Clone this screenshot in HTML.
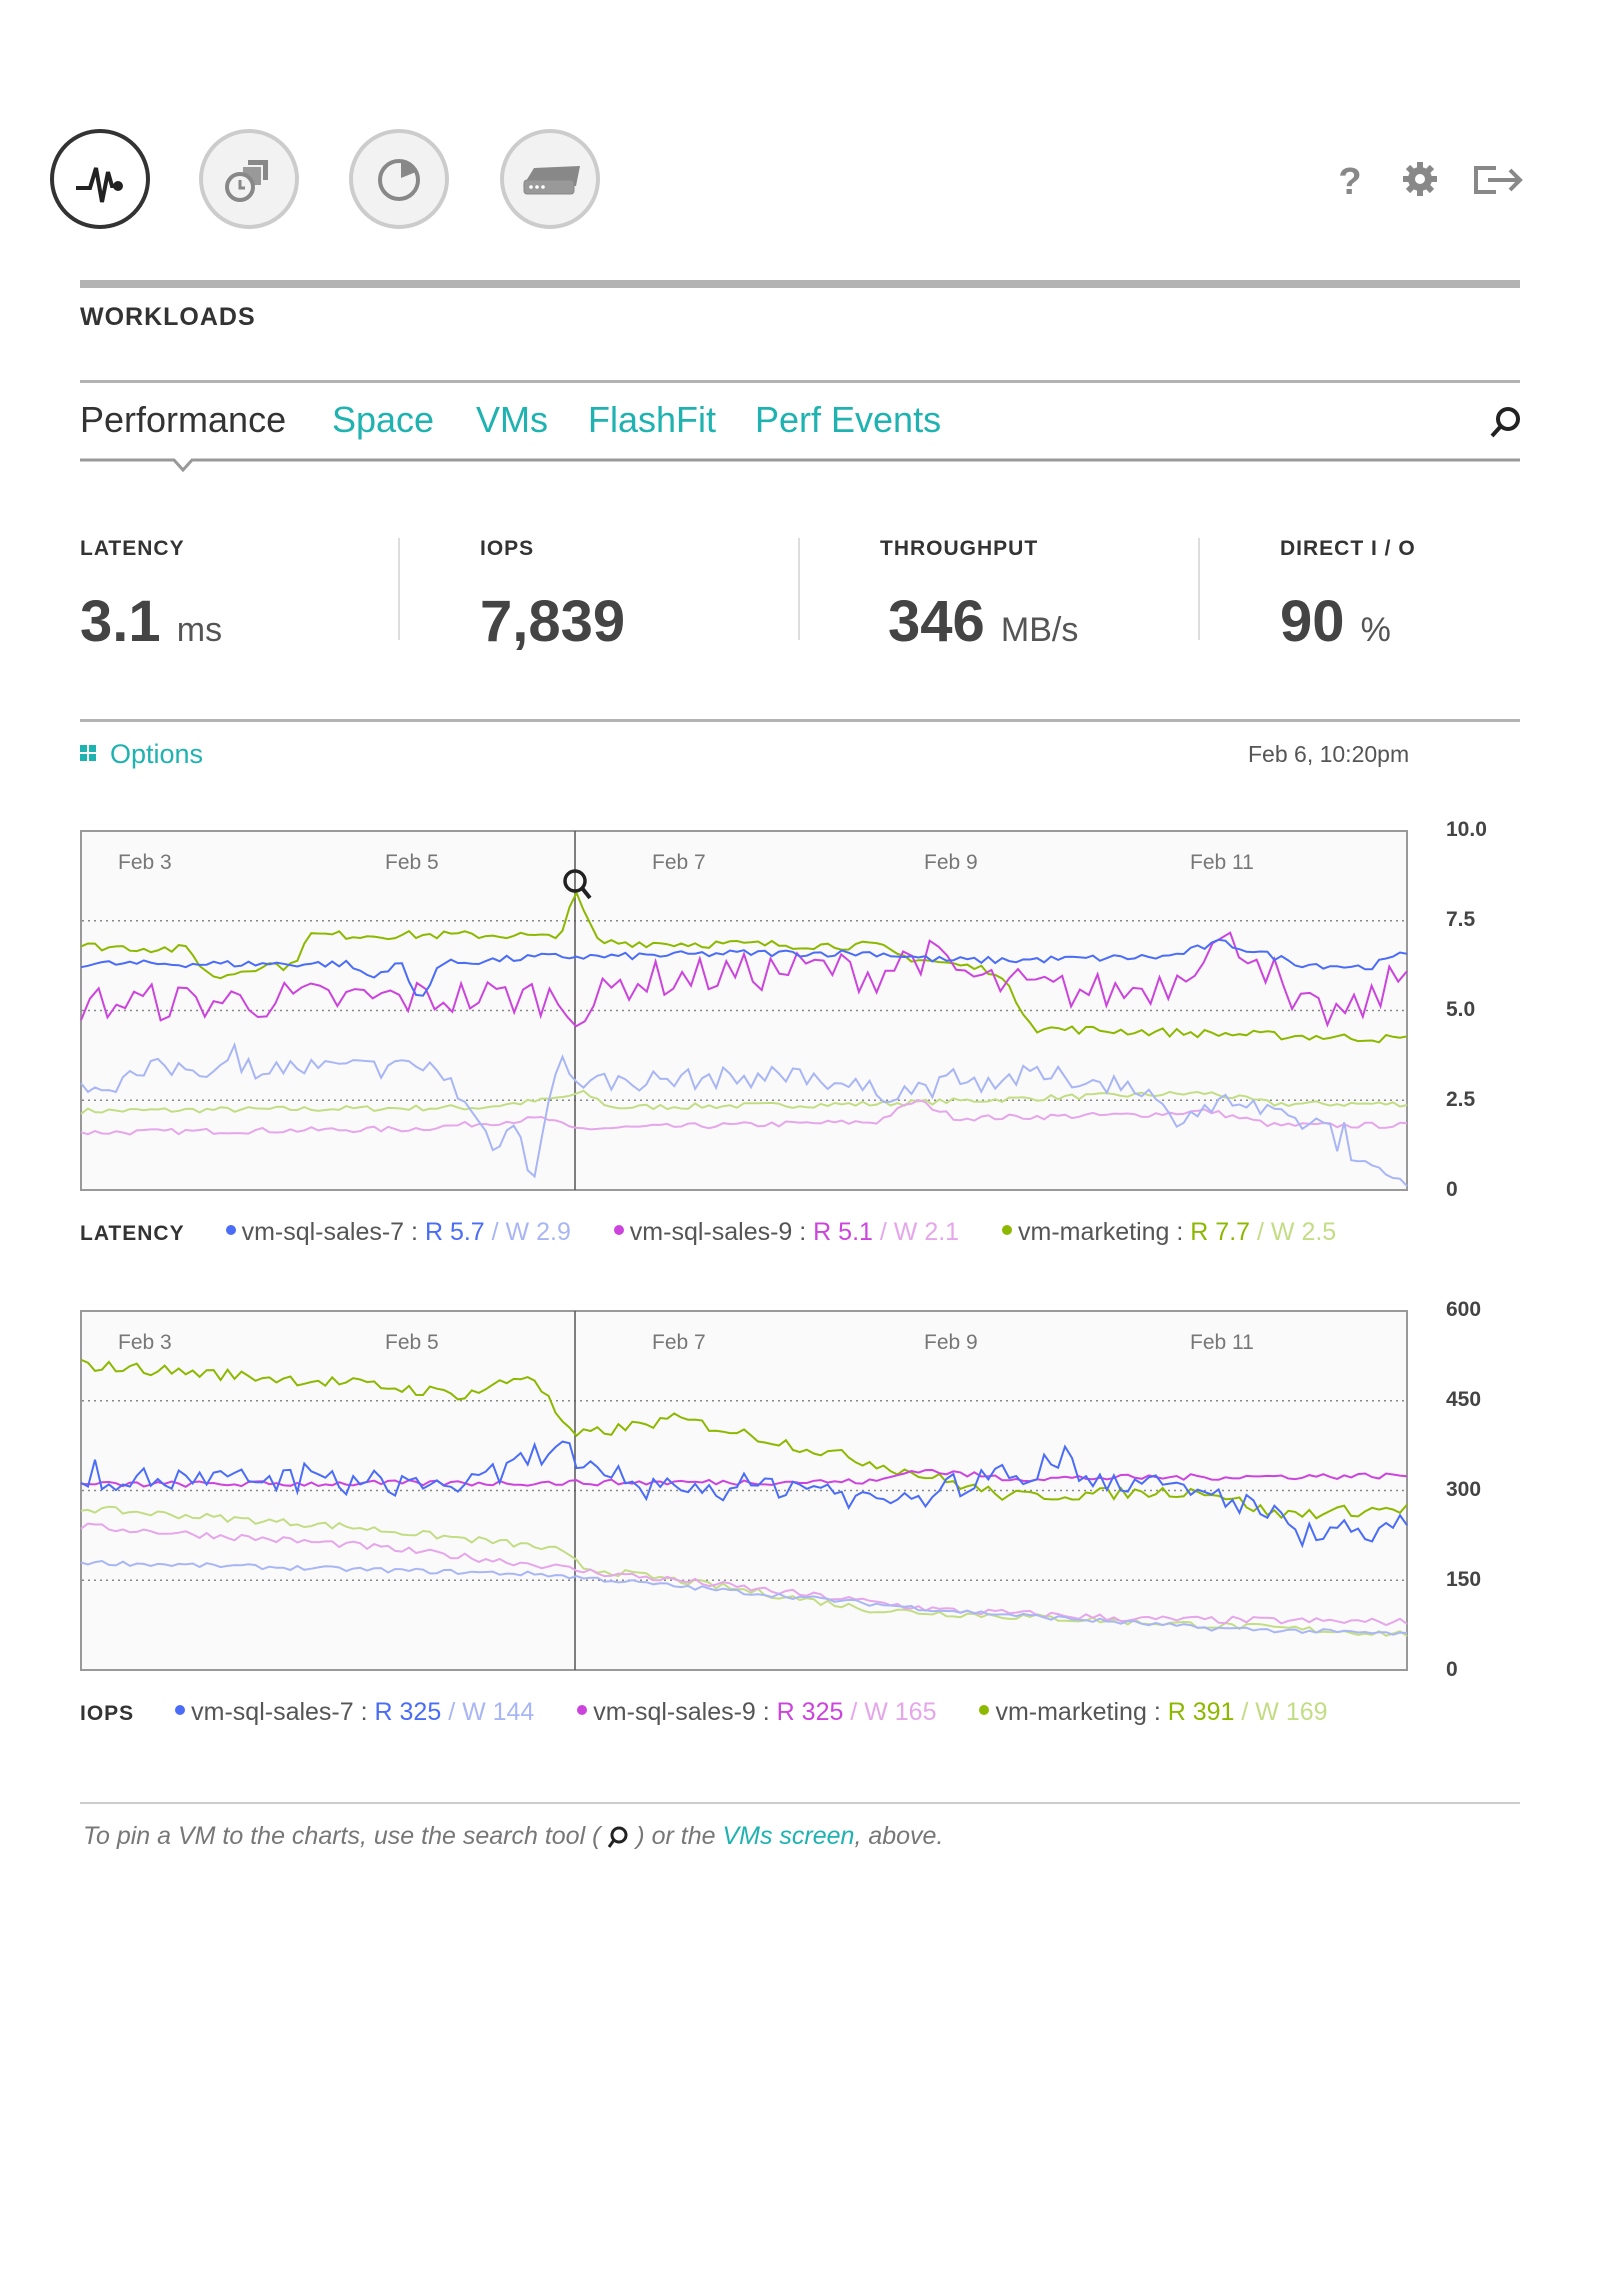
<!DOCTYPE html>
<html><head><meta charset="utf-8">
<style>
body{margin:0;width:1600px;height:2280px;background:#fff;font-family:"Liberation Sans",sans-serif;position:relative;overflow:hidden;color:#333}
.a{position:absolute;white-space:nowrap}
.hr{position:absolute;left:80px;width:1440px}
.teal{color:#1eb2b0}
.lab{font-size:21px;font-weight:bold;letter-spacing:1px;color:#333}
.big{font-size:58px;font-weight:bold;color:#444}
.unit{font-size:34px;font-weight:normal;color:#555}
.sep{position:absolute;width:2px;background:#ddd;top:538px;height:102px}
.yl{position:absolute;left:1446px;font-size:21px;font-weight:bold;color:#444}
.leg{font-size:25px;color:#555}
.dot{display:inline-block;width:10px;height:10px;border-radius:50%;margin-right:6px;vertical-align:middle;position:relative;top:-3px}
</style></head><body>
<svg class="a" style="left:0;top:0" width="1600" height="300">
 <circle cx="100" cy="179" r="48" fill="#fff" stroke="#333" stroke-width="4"/>
 <polyline points="76,188 90,188 96,168 102,202 108,172 112,186 118,186" fill="none" stroke="#222" stroke-width="4"/>
 <circle cx="118" cy="186" r="5" fill="#222"/>
 <g fill="#f2f2f2" stroke="#ccc" stroke-width="4">
 <circle cx="249" cy="179" r="48"/><circle cx="399" cy="179" r="48"/><circle cx="550" cy="179" r="48"/></g>
 <rect x="248" y="160" width="20" height="20" fill="#888"/><rect x="242" y="166" width="20" height="20" fill="#999" stroke="#f2f2f2" stroke-width="2"/>
 <circle cx="240" cy="187" r="13" fill="#f2f2f2" stroke="#888" stroke-width="4"/>
 <path d="M240,180 v8 h5" stroke="#888" stroke-width="3" fill="none"/>
 <circle cx="399" cy="180" r="19" fill="none" stroke="#888" stroke-width="4"/>
 <path d="M401,178 L401,160 A19,19 0 0 1 416,172 Z" fill="#888"/>
 <path d="M523,186 L534,168 L580,166 L576,186 Z" fill="#888"/>
 <rect x="524" y="180" width="50" height="14" rx="3" fill="#999" stroke="#888"/>
 <circle cx="531" cy="187" r="1.8" fill="#fff"/><circle cx="537" cy="187" r="1.8" fill="#fff"/><circle cx="543" cy="187" r="1.8" fill="#fff"/>
 <text x="1350" y="194" font-size="38" font-weight="bold" fill="#888" text-anchor="middle" font-family="Liberation Sans">?</text>
 <g transform="translate(1420,179)" fill="#888"><circle r="12"/><g stroke="#888" stroke-width="6"><line y1="-17" y2="17"/><line x1="-17" x2="17"/><line x1="-12" y1="-12" x2="12" y2="12"/><line x1="-12" y1="12" x2="12" y2="-12"/></g><circle r="5" fill="#fff"/></g>
 <path d="M1496,168 h-20 v24 h20" fill="none" stroke="#888" stroke-width="4"/>
 <path d="M1488,180 h32 M1510,170 l10,10 l-10,10" fill="none" stroke="#888" stroke-width="4"/>
</svg>
<div class="hr" style="top:280px;height:8px;background:#b3b3b3"></div>
<div class="a lab" style="left:80px;top:303px;font-size:25px">WORKLOADS</div>
<div class="hr" style="top:380px;height:3px;background:#b3b3b3"></div>
<div class="a" style="left:80px;top:399px;font-size:36px;color:#333">Performance</div>
<div class="a teal" style="left:332px;top:399px;font-size:36px">Space</div>
<div class="a teal" style="left:476px;top:399px;font-size:36px">VMs</div>
<div class="a teal" style="left:588px;top:399px;font-size:36px">FlashFit</div>
<div class="a teal" style="left:755px;top:399px;font-size:36px">Perf Events</div>
<svg class="a" style="left:1488px;top:404px" width="36" height="36"><circle cx="20" cy="15" r="10" fill="none" stroke="#222" stroke-width="4"/><line x1="13" y1="22" x2="4" y2="32" stroke="#222" stroke-width="4"/></svg>
<svg class="a" style="left:80px;top:458px" width="1440" height="18"><polyline points="0,2 94,2 103,12 112,2 1440,2" fill="#fff" stroke="#999" stroke-width="3"/></svg>
<div class="a lab" style="left:80px;top:537px">LATENCY</div>
<div class="a lab" style="left:480px;top:537px">IOPS</div>
<div class="a lab" style="left:880px;top:537px">THROUGHPUT</div>
<div class="a lab" style="left:1280px;top:537px">DIRECT I / O</div>
<div class="sep" style="left:398px"></div><div class="sep" style="left:798px"></div><div class="sep" style="left:1198px"></div>
<div class="a big" style="left:80px;top:588px">3.1 <span class="unit">ms</span></div>
<div class="a big" style="left:480px;top:588px">7,839</div>
<div class="a big" style="left:888px;top:588px">346 <span class="unit">MB/s</span></div>
<div class="a big" style="left:1280px;top:588px">90 <span class="unit">%</span></div>
<div class="hr" style="top:719px;height:3px;background:#b3b3b3"></div>
<svg class="a" style="left:80px;top:745px" width="18" height="18"><rect x="0" y="0" width="7" height="7" fill="#1eb2b0"/><rect x="9" y="0" width="7" height="7" fill="#1eb2b0"/><rect x="0" y="9" width="7" height="7" fill="#1eb2b0"/><rect x="9" y="9" width="7" height="7" fill="#1eb2b0"/></svg>
<div class="a teal" style="left:110px;top:739px;font-size:27px">Options</div>
<div class="a" style="left:1248px;top:741px;font-size:23px;color:#555">Feb 6, 10:20pm</div>

<svg id="c1" class="a" style="left:80px;top:830px" width="1330" height="362"></svg>
<svg id="c2" class="a" style="left:80px;top:1310px" width="1330" height="362"></svg>
<div class="yl" style="top:818px">10.0</div><div class="yl" style="top:908px">7.5</div><div class="yl" style="top:998px">5.0</div><div class="yl" style="top:1088px">2.5</div><div class="yl" style="top:1178px">0</div>
<div class="yl" style="top:1298px">600</div><div class="yl" style="top:1388px">450</div><div class="yl" style="top:1478px">300</div><div class="yl" style="top:1568px">150</div><div class="yl" style="top:1658px">0</div>

<div class="a leg" style="left:80px;top:1218px"><b style="color:#333;font-size:21px;letter-spacing:1px">LATENCY</b>
<span style="margin-left:34px"><span class="dot" style="background:#4a6cf7"></span>vm-sql-sales-7 : <span style="color:#4a6cf7">R 5.7</span> <span style="color:#a9b6f5">/ W 2.9</span></span>
<span style="margin-left:36px"><span class="dot" style="background:#cc44dd"></span>vm-sql-sales-9 : <span style="color:#cc44dd">R 5.1</span> <span style="color:#e5a6ea">/ W 2.1</span></span>
<span style="margin-left:36px"><span class="dot" style="background:#8db800"></span>vm-marketing : <span style="color:#8db800">R 7.7</span> <span style="color:#c3dd85">/ W 2.5</span></span></div>
<div class="a leg" style="left:80px;top:1698px"><b style="color:#333;font-size:21px;letter-spacing:1px">IOPS</b>
<span style="margin-left:34px"><span class="dot" style="background:#4a6cf7"></span>vm-sql-sales-7 : <span style="color:#4a6cf7">R 325</span> <span style="color:#a9b6f5">/ W 144</span></span>
<span style="margin-left:36px"><span class="dot" style="background:#cc44dd"></span>vm-sql-sales-9 : <span style="color:#cc44dd">R 325</span> <span style="color:#e5a6ea">/ W 165</span></span>
<span style="margin-left:36px"><span class="dot" style="background:#8db800"></span>vm-marketing : <span style="color:#8db800">R 391</span> <span style="color:#c3dd85">/ W 169</span></span></div>
<div class="hr" style="top:1802px;height:2px;background:#ccc"></div>
<div class="a" style="left:83px;top:1822px;font-size:25px;font-style:italic;color:#777">To pin a VM to the charts, use the search tool ( <svg width="22" height="24" style="vertical-align:middle"><circle cx="12" cy="10" r="7" fill="none" stroke="#222" stroke-width="3"/><line x1="7" y1="15" x2="2" y2="22" stroke="#222" stroke-width="3"/></svg> ) or the <span class="teal">VMs screen</span>, above.</div>

<script>
var seed=7;function rnd(){seed=(seed*16807)%2147483647;return seed/2147483647;}
function interp(k,t){for(var i=0;i<k.length-1;i++){if(t>=k[i][0]&&t<=k[i+1][0]){var f=(t-k[i][0])/(k[i+1][0]-k[i][0]);return k[i][1]+f*(k[i+1][1]-k[i][1]);}}return k[k.length-1][1];}
function chart(id,max,series){
 var s=document.getElementById(id),W=1326,H=359,o='';
 o+='<rect x="1" y="1" width="'+W+'" height="'+H+'" fill="#fafafa" stroke="#999" stroke-width="2"/>';
 [0.25,0.5,0.75].forEach(function(f){o+='<line x1="2" x2="'+(W)+'" y1="'+(1+H*f)+'" y2="'+(1+H*f)+'" stroke="#888" stroke-width="1.5" stroke-dasharray="2,4"/>';});
 o+='<line x1="495" x2="495" y1="1" y2="'+(H+1)+'" stroke="#555" stroke-width="1.5"/>';
 [["Feb 3",38],["Feb 5",305],["Feb 7",572],["Feb 9",844],["Feb 11",1110]].forEach(function(d){o+='<text x="'+d[1]+'" y="39" font-size="21" fill="#777" font-family="Liberation Sans">'+d[0]+'</text>';});
 series.forEach(function(se){var p=[];var N=se.N||190;for(var i=0;i<=N;i++){var t=i/N;var v=interp(se.k,t)+(rnd()-0.5)*2*se.n;if(se.sp&&rnd()<se.sp)v+=(rnd()-0.3)*se.n*3;var y=1+H*(1-v/max);y=Math.max(3,Math.min(H-1,y));p.push((1+t*W).toFixed(1)+','+y.toFixed(1));}
  o+='<polyline points="'+p.join(' ')+'" fill="none" stroke="'+se.c+'" stroke-width="2"/>';});
 s.innerHTML=o;return s;}
var c1=chart('c1',10,[
 {c:'#c3dd85',n:0.08,k:[[0,2.2],[0.3,2.3],[0.35,2.5],[0.38,2.7],[0.4,2.3],[0.6,2.4],[0.75,2.6],[0.85,2.7],[0.9,2.4],[1,2.4]]},
 {c:'#e5a6ea',n:0.08,k:[[0,1.6],[0.25,1.7],[0.35,2.0],[0.37,1.7],[0.6,1.9],[0.63,2.5],[0.66,2.0],[0.8,2.1],[0.85,2.2],[0.9,1.8],[1,1.8]]},
 {c:'#a9b6f5',n:0.3,sp:0.05,k:[[0,2.7],[0.06,3.4],[0.27,3.4],[0.29,2.4],[0.31,1.3],[0.33,1.8],[0.34,0.3],[0.36,3.6],[0.38,3.0],[0.55,3.2],[0.6,2.7],[0.72,3.2],[0.8,2.9],[0.82,2.0],[0.87,2.5],[0.9,2.0],[0.94,1.8],[0.96,0.6],[1,0.4]]},
 {c:'#8db800',n:0.12,k:[[0,6.8],[0.08,6.7],[0.1,5.9],[0.14,6.3],[0.16,6.2],[0.17,7.1],[0.33,7.1],[0.36,7.0],[0.372,8.3],[0.39,6.9],[0.6,6.8],[0.62,6.5],[0.69,6.1],[0.72,4.5],[1,4.2]]},
 {c:'#cc44dd',n:0.55,N:150,k:[[0,5.2],[0.35,5.4],[0.38,5.0],[0.41,5.8],[0.56,6.2],[0.6,6.0],[0.63,6.6],[0.68,5.8],[0.72,5.6],[0.78,5.5],[0.82,5.8],[0.85,6.8],[0.88,6.8],[0.9,6.0],[0.91,5.0],[0.96,4.9],[1,6.1]]},
 {c:'#4a6cf7',n:0.1,k:[[0,6.3],[0.2,6.3],[0.22,5.9],[0.24,6.4],[0.255,5.2],[0.27,6.3],[0.35,6.5],[0.4,6.5],[0.5,6.6],[0.6,6.6],[0.65,6.4],[0.7,6.4],[0.82,6.5],[0.86,6.9],[0.9,6.5],[0.92,6.3],[0.97,6.2],[1,6.6]]}
]);
var s1=document.getElementById('c1');s1.innerHTML+='<circle cx="495" cy="51" r="10" fill="none" stroke="#222" stroke-width="3.5"/><line x1="502" y1="58" x2="510" y2="68" stroke="#222" stroke-width="4"/>';
chart('c2',600,[
 {c:'#c3dd85',n:6,k:[[0,270],[0.2,240],[0.33,210],[0.36,200],[0.38,170],[0.45,150],[0.6,100],[0.8,80],[1,60]]},
 {c:'#e5a6ea',n:6,k:[[0,240],[0.2,210],[0.35,175],[0.38,165],[0.45,150],[0.65,100],[0.8,85],[1,80]]},
 {c:'#a9b6f5',n:4,k:[[0,180],[0.35,160],[0.45,140],[0.65,100],[0.85,70],[1,60]]},
 {c:'#8db800',n:10,k:[[0,510],[0.2,480],[0.29,460],[0.34,495],[0.37,390],[0.45,420],[0.55,370],[0.6,345],[0.7,290],[0.85,300],[0.9,260],[1,270]]},
 {c:'#cc44dd',n:5,k:[[0,310],[0.6,315],[0.63,335],[0.7,320],[1,325]]},
 {c:'#4a6cf7',n:22,sp:0.06,k:[[0,320],[0.3,310],[0.36,380],[0.4,300],[0.55,310],[0.6,280],[0.73,340],[0.8,310],[0.88,280],[0.92,230],[1,240]]}
]);
</script>
</body></html>
